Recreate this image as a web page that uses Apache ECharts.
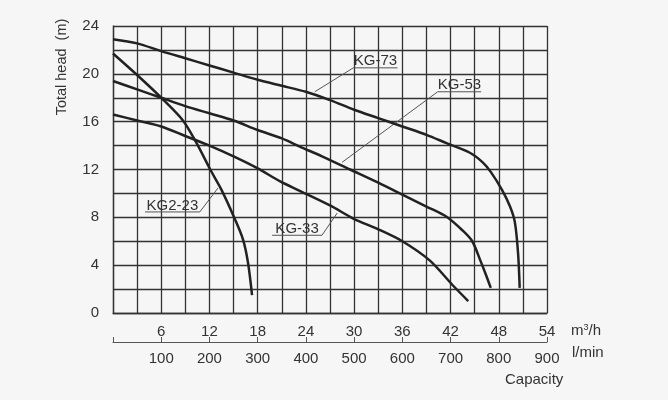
<!DOCTYPE html>
<html lang="en">
<head>
<meta charset="UTF-8">
<title>Pump curves</title>
<script src="https://cdn.jsdelivr.net/npm/echarts@6/dist/echarts.min.js"></script>
<style>
    html,body,#chart{
        width: 100%;
        height: 100%;
        margin: 0;
        padding: 0;
        background: #f6f6f6;
    }
</style>
</head>
<body>
<div id="chart"></div>
<script>
    // Q in m3/h, H in m
    var kg73 = [[0,22.9],[3,22.55],[6,21.9],[9,21.3],[12,20.7],[15,20.1],[18,19.5],[21,19.0],[24,18.5],[27,17.8],[30,17.0],[33,16.3],[36,15.6],[39,14.9],[41.5,14.2],[44.4,13.4],[46,12.6],[47,11.8],[48.4,10.3],[49.4,8.9],[50,7.6],[50.4,5.0],[50.6,2.1]];
    var kg53 = [[0,19.4],[3,18.7],[6,18.0],[9,17.3],[12,16.7],[15,16.1],[18,15.3],[21,14.6],[23.3,13.9],[26,13.1],[29.5,12.0],[33,10.9],[36,9.9],[39,8.9],[41.5,8.05],[43.5,6.9],[44.7,6.0],[45.7,4.4],[46.4,3.2],[47,2.1]];
    var kg33 = [[0,16.6],[3,16.1],[6,15.6],[9,14.8],[12,14.0],[15,13.1],[18,12.1],[20.8,11.0],[23.3,10.2],[27,9.0],[29.9,7.9],[33,7.0],[36,6.0],[39.4,4.4],[42.3,2.3],[44.2,1.0]];
    var kg223 = [[0,21.7],[3,19.9],[6,18.0],[8.7,16.1],[10.4,14.2],[12.1,12.0],[13.5,10.3],[15.2,7.8],[16.2,6.1],[16.8,4.2],[17.3,1.5]];

    // leader lines: point on curve, elbow, end of underline
    var leaders = {
        'KG-73': [[25.1,18.5],[29.9,20.5],[35.4,20.5]],
        'KG-53': [[28.5,12.6],[40.4,18.5],[45.8,18.5]],
        'KG2-23': [[13.06,10.45],[10.8,8.45],[3.98,8.45]],
        'KG-33': [[27.9,8.36],[26.0,6.5],[19.8,6.5]]
    };

    var qTicks = [0,6,12,18,24,30,36,42,48,54];
    var lTicks = [0,100,200,300,400,500,600,700,800,900];
    var hTicks = [0,4,8,12,16,20,24];

    var txt = '#333';
    var font = 'Liberation Sans, Arial, sans-serif';

    var myChart = echarts.init(document.getElementById('chart'));

    var series = [];
    [kg73, kg53, kg33, kg223].forEach(function (d) {
        series.push({
            type: 'line',
            data: d,
            smooth: 0.3,
            symbol: 'none',
            lineStyle: { color: '#222', width: 2.5 },
            z: 5
        });
    });
    Object.keys(leaders).forEach(function (k) {
        series.push({
            type: 'line',
            data: leaders[k],
            symbol: 'none',
            lineStyle: { color: '#555', width: 1 },
            z: 4
        });
    });

    var options = {
        backgroundColor: '#f6f6f6',
        animation: false,
        grid: { left: 113, right: 121, top: 26, bottom: 87 },
        xAxis: [{
            type: 'value',
            min: 0,
            max: 54,
            interval: 3,
            axisLine: { show: true, lineStyle: { color: '#333', width: 1.3 } },
            axisTick: { show: false },
            splitLine: { show: true, lineStyle: { color: '#333', width: 1.3 } },
            axisLabel: {
                margin: 11,
                color: txt,
                fontSize: 15,
                fontFamily: font,
                formatter: function (v) {
                    return (v > 0 && qTicks.indexOf(v) >= 0) ? String(v) : '';
                }
            }
        }, {
            type: 'value',
            position: 'bottom',
            offset: 29,
            min: 0,
            max: 900,
            interval: 100,
            axisLine: { show: true, onZero: false, lineStyle: { color: '#555', width: 1 } },
            axisTick: { show: true, inside: true, length: 5, lineStyle: { color: '#555' } },
            splitLine: { show: false },
            axisLabel: {
                margin: 9,
                color: txt,
                fontSize: 15,
                fontFamily: font,
                formatter: function (v) {
                    return (v > 0 && lTicks.indexOf(v) >= 0) ? String(v) : '';
                }
            }
        }],
        yAxis: {
            type: 'value',
            min: 0,
            max: 24,
            interval: 2,
            axisLine: { show: true, lineStyle: { color: '#333', width: 1.3 } },
            axisTick: { show: false },
            splitLine: { show: true, lineStyle: { color: '#333', width: 1.3 } },
            axisLabel: {
                margin: 14,
                color: txt,
                fontSize: 15,
                fontFamily: font,
                formatter: function (v) {
                    return hTicks.indexOf(v) >= 0 ? String(v) : '';
                }
            }
        },
        series: series
    };
    myChart.setOption(options);

    // curve names sit on their underlines
    var g = [];
    Object.keys(leaders).forEach(function (k) {
        var p = leaders[k];
        var a = myChart.convertToPixel({ gridIndex: 0 }, p[1]);
        var b = myChart.convertToPixel({ gridIndex: 0 }, p[2]);
        g.push({
            type: 'text',
            x: (a[0] + b[0]) / 2,
            y: a[1] + 1,
            style: {
                text: k,
                fill: txt,
                font: '15px ' + font,
                textAlign: 'center',
                textVerticalAlign: 'bottom'
            },
            z: 10
        });
    });
    g.push({
        type: 'text', x: 62, y: 67, rotation: Math.PI / 2,
        style: { text: 'Total head  (m)', fill: txt, font: '14.5px ' + font, textAlign: 'center', textVerticalAlign: 'middle' }
    });
    g.push({
        type: 'text', x: 571, y: 331,
        style: { rich: { a: { fontSize: 15, fontFamily: font, fill: txt }, s: { fontSize: 9, fontFamily: font, fill: txt, verticalAlign: 'top' } },
                 text: '{a|m}{s|3}{a|/h}', textVerticalAlign: 'middle' }
    });
    g.push({
        type: 'text', x: 572, y: 353,
        style: { text: 'l/min', fill: txt, font: '15px ' + font, textVerticalAlign: 'middle' }
    });
    g.push({
        type: 'text', x: 505, y: 380,
        style: { text: 'Capacity', fill: txt, font: '15px ' + font, textVerticalAlign: 'middle' }
    });
    myChart.setOption({ graphic: g });
</script>
</body>
</html>
